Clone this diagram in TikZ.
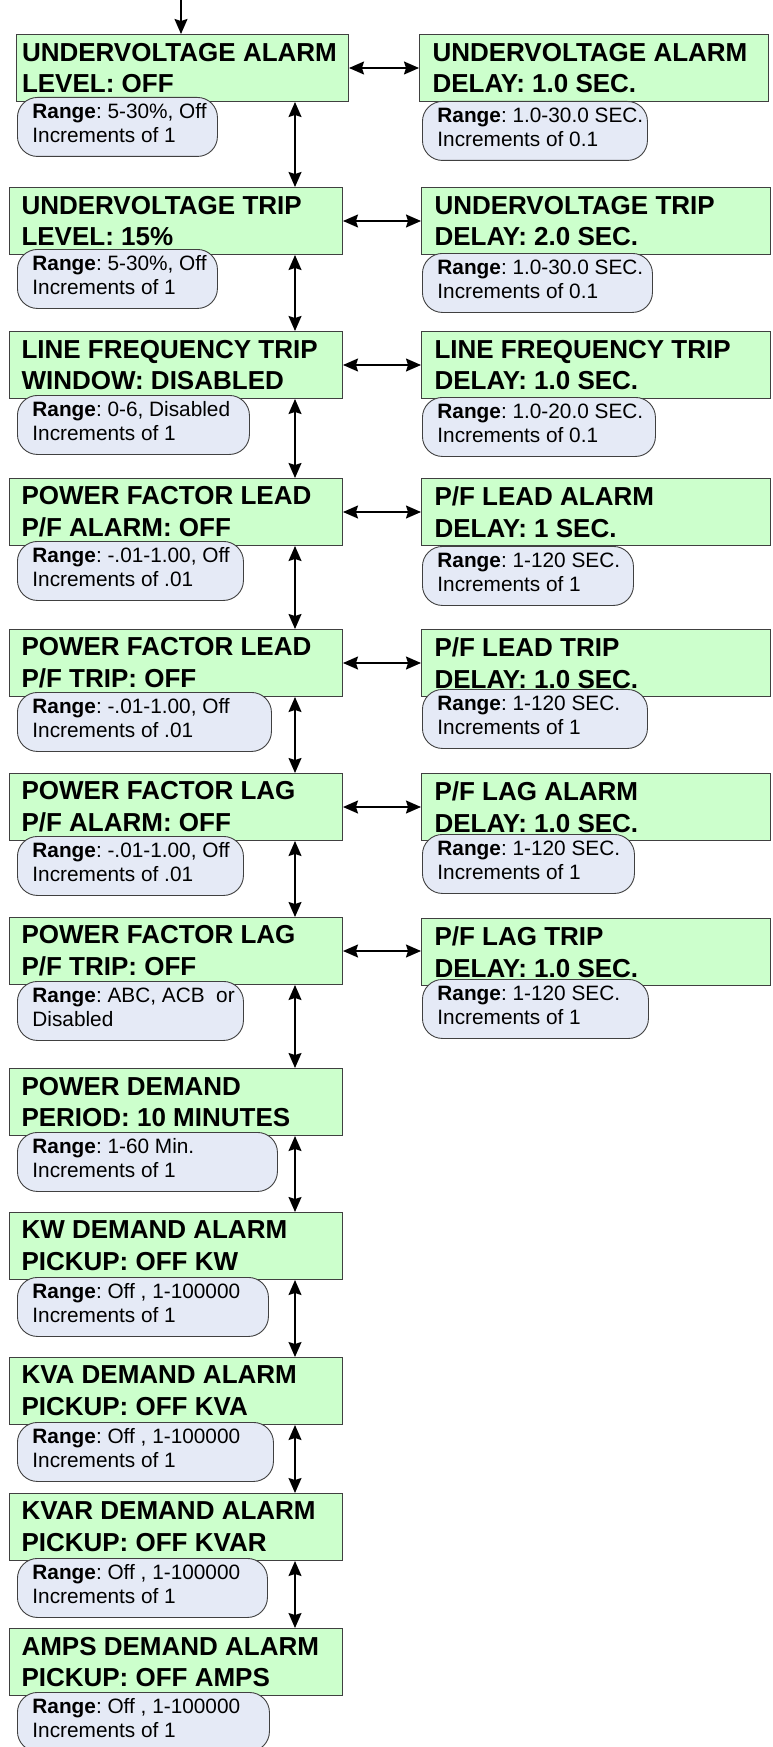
\documentclass[tikz,border=0pt]{standalone}
\usepackage{fontspec}
\setmainfont{Liberation Sans}
\frenchspacing
\usetikzlibrary{arrows.meta}

\definecolor{boxgreen}{RGB}{204,255,204}
\definecolor{rangeblue}{RGB}{229,234,246}

% two lines of a range note, kept on one line each
\newcommand{\rangetext}[2]{\mbox{\textbf{Range}: #1}\\\mbox{#2}}

\tikzset{
  menubox/.style={draw=black!75, fill=boxgreen, line width=1pt, anchor=north west,
    minimum height=67pt, text width=309pt, inner xsep=12pt, inner ysep=0pt,
    align=flush left, font=\bfseries\fontsize{26}{31.7}\selectfont},
  delaybox/.style={menubox, text width=323pt, inner xsep=13pt},
  rangebubble/.style={draw=black!75, fill=rangeblue, line width=0.9pt, rounded corners=20pt,
    anchor=north west, minimum height=59pt, text width={#1-30pt}, inner xsep=15pt, inner ysep=0pt,
    align=flush left, font=\fontsize{20.8}{24}\selectfont,
    execute at end node={\rule[-7pt]{0pt}{7pt}}},
  flow/.style={-{Stealth[length=15pt,width=13pt,inset=2pt]}, line width=1.4pt},
  dflow/.style={{Stealth[length=15pt,width=13pt,inset=2pt]}-{Stealth[length=15pt,width=13pt,inset=2pt]}, line width=1.4pt}
}

\begin{document}
\begin{tikzpicture}[x=1pt,y=-1pt]
\useasboundingbox (0,0) rectangle (773,1747);

% left column
\node[menubox, text width=321pt, inner xsep=5.5pt] (uvAlarm) at (16,34) {UNDERVOLTAGE ALARM\\LEVEL: OFF};
\node[menubox] (uvTrip) at (9,187) {UNDERVOLTAGE TRIP\\LEVEL: 15\%};
\node[menubox] (lfTrip) at (9,331) {LINE FREQUENCY TRIP\\WINDOW: DISABLED};
\node[menubox] (pfLeadAlarm) at (9,478) {POWER FACTOR LEAD\\P/F ALARM: OFF};
\node[menubox] (pfLeadTrip) at (9,629) {POWER FACTOR LEAD\\P/F TRIP: OFF};
\node[menubox] (pfLagAlarm) at (9,773) {POWER FACTOR LAG\\P/F ALARM: OFF};
\node[menubox] (pfLagTrip) at (9,917) {POWER FACTOR LAG\\P/F TRIP: OFF};
\node[menubox] (demPeriod) at (9,1068) {POWER DEMAND\\PERIOD: 10 MINUTES};
\node[menubox] (kwDem) at (9,1212) {KW DEMAND ALARM\\PICKUP: OFF KW};
\node[menubox] (kvaDem) at (9,1357) {KVA DEMAND ALARM\\PICKUP: OFF KVA};
\node[menubox] (kvarDem) at (9,1493) {KVAR DEMAND ALARM\\PICKUP: OFF KVAR};
\node[menubox] (ampsDem) at (9,1628) {AMPS DEMAND ALARM\\PICKUP: OFF AMPS};

% right column (delays)
\node[delaybox] (uvAlarmDly) at (419,34) {UNDERVOLTAGE ALARM\\DELAY: 1.0 SEC.};
\node[delaybox] (uvTripDly) at (421,187) {UNDERVOLTAGE TRIP\\DELAY: 2.0 SEC.};
\node[delaybox] (lfTripDly) at (421,331) {LINE FREQUENCY TRIP\\DELAY: 1.0 SEC.};
\node[delaybox] (pfLeadAlarmDly) at (421,478) {P/F LEAD ALARM\\DELAY: 1 SEC.};
\node[delaybox] (pfLeadTripDly) at (421,629) {P/F LEAD TRIP\\DELAY: 1.0 SEC.};
\node[delaybox] (pfLagAlarmDly) at (421,773) {P/F LAG ALARM\\DELAY: 1.0 SEC.};
\node[delaybox] (pfLagTripDly) at (421,918) {P/F LAG TRIP\\DELAY: 1.0 SEC.};

% range notes
\node[rangebubble=200pt] (uvAlarmRng) at (17,97) {\rangetext{5-30\%, Off}{Increments of 1}};
\node[rangebubble=200pt] (uvTripRng) at (17,249) {\rangetext{5-30\%, Off}{Increments of 1}};
\node[rangebubble=232pt] (lfTripRng) at (17,395) {\rangetext{0-6, Disabled}{Increments of 1}};
\node[rangebubble=226pt] (pfLeadAlarmRng) at (17,541) {\rangetext{-.01-1.00, Off}{Increments of .01}};
\node[rangebubble=254pt] (pfLeadTripRng) at (17,692) {\rangetext{-.01-1.00, Off}{Increments of .01}};
\node[rangebubble=226pt] (pfLagAlarmRng) at (17,836) {\rangetext{-.01-1.00, Off}{Increments of .01}};
\node[rangebubble=226pt] (pfLagTripRng) at (17,981) {\rangetext{ABC, ACB\ \ or}{Disabled}};
\node[rangebubble=260pt] (demPeriodRng) at (17,1132) {\rangetext{1-60 Min.}{Increments of 1}};
\node[rangebubble=251pt] (kwDemRng) at (17,1277) {\rangetext{Off , 1-100000}{Increments of 1}};
\node[rangebubble=256pt] (kvaDemRng) at (17,1422) {\rangetext{Off , 1-100000}{Increments of 1}};
\node[rangebubble=250pt] (kvarDemRng) at (17,1558) {\rangetext{Off , 1-100000}{Increments of 1}};
\node[rangebubble=252pt] (ampsDemRng) at (17,1692) {\rangetext{Off , 1-100000}{Increments of 1}};

\node[rangebubble=225pt] (uvAlarmDlyRng) at (422,101) {\rangetext{1.0-30.0 SEC.}{Increments of 0.1}};
\node[rangebubble=230pt] (uvTripDlyRng) at (422,253) {\rangetext{1.0-30.0 SEC.}{Increments of 0.1}};
\node[rangebubble=233pt] (lfTripDlyRng) at (422,397) {\rangetext{1.0-20.0 SEC.}{Increments of 0.1}};
\node[rangebubble=211pt] (pfLeadAlarmDlyRng) at (422,546) {\rangetext{1-120 SEC.}{Increments of 1}};
\node[rangebubble=225pt] (pfLeadTripDlyRng) at (422,689) {\rangetext{1-120 SEC.}{Increments of 1}};
\node[rangebubble=212pt] (pfLagAlarmDlyRng) at (422,834) {\rangetext{1-120 SEC.}{Increments of 1}};
\node[rangebubble=226pt] (pfLagTripDlyRng) at (422,979) {\rangetext{1-120 SEC.}{Increments of 1}};

% arrows
\coordinate (entry) at (181,0);
\coordinate (spine) at (295,0);
\draw[flow] (entry) -- (entry |- uvAlarm.north);

\draw[dflow] (uvAlarm.south -| spine) -- (uvTrip.north -| spine);
\draw[dflow] (uvTrip.south -| spine) -- (lfTrip.north -| spine);
\draw[dflow] (lfTrip.south -| spine) -- (pfLeadAlarm.north -| spine);
\draw[dflow] (pfLeadAlarm.south -| spine) -- (pfLeadTrip.north -| spine);
\draw[dflow] (pfLeadTrip.south -| spine) -- (pfLagAlarm.north -| spine);
\draw[dflow] (pfLagAlarm.south -| spine) -- (pfLagTrip.north -| spine);
\draw[dflow] (pfLagTrip.south -| spine) -- (demPeriod.north -| spine);
\draw[dflow] (demPeriod.south -| spine) -- (kwDem.north -| spine);
\draw[dflow] (kwDem.south -| spine) -- (kvaDem.north -| spine);
\draw[dflow] (kvaDem.south -| spine) -- (kvarDem.north -| spine);
\draw[dflow] (kvarDem.south -| spine) -- (ampsDem.north -| spine);

\draw[dflow] (uvAlarm.east) -- (uvAlarm.east -| uvAlarmDly.west);
\draw[dflow] (uvTrip.east) -- (uvTrip.east -| uvTripDly.west);
\draw[dflow] (lfTrip.east) -- (lfTrip.east -| lfTripDly.west);
\draw[dflow] (pfLeadAlarm.east) -- (pfLeadAlarm.east -| pfLeadAlarmDly.west);
\draw[dflow] (pfLeadTrip.east) -- (pfLeadTrip.east -| pfLeadTripDly.west);
\draw[dflow] (pfLagAlarm.east) -- (pfLagAlarm.east -| pfLagAlarmDly.west);
\draw[dflow] (pfLagTrip.east) -- (pfLagTrip.east -| pfLagTripDly.west);

\end{tikzpicture}
\end{document}
